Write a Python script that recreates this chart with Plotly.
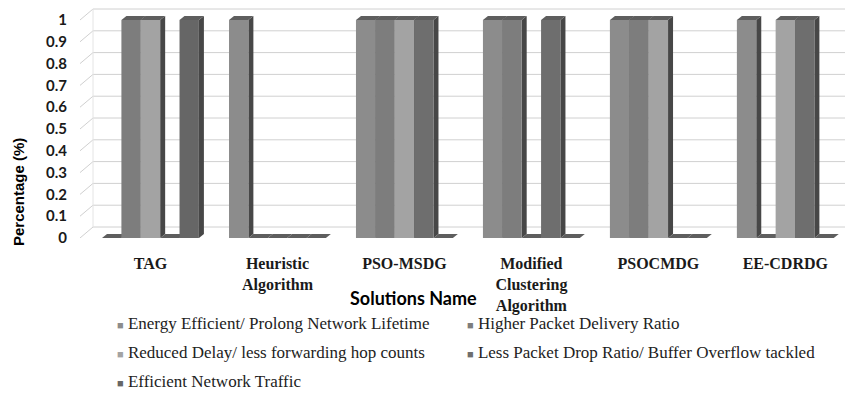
import plotly.graph_objects as go

# ---- data -------------------------------------------------------------
categories = [
    "TAG",
    "Heuristic<br>Algorithm",
    "PSO-MSDG",
    "Modified<br>Clustering<br>Algorithm",
    "PSOCMDG",
    "EE-CDRDG",
]
series_names = [
    "Energy Efficient/ Prolong Network Lifetime",
    "Higher Packet Delivery Ratio",
    "Reduced Delay/ less forwarding hop counts",
    "Less Packet Drop Ratio/ Buffer Overflow tackled",
    "Efficient Network Traffic",
]
energy_efficient = [0, 1, 1, 1, 1, 1]
higher_delivery = [1, 0, 1, 1, 1, 0]
reduced_delay = [1, 0, 1, 0, 1, 1]
less_drop = [0, 0, 1, 1, 0, 1]
network_traffic = [1, 0, 0, 0, 0, 0]
y_ticks = [0, 0.1, 0.2, 0.3, 0.4, 0.5, 0.6, 0.7, 0.8, 0.9, 1]
y_tick_text = ["0", "0.1", "0.2", "0.3", "0.4", "0.5", "0.6", "0.7", "0.8", "0.9", "1"]

series_values = [energy_efficient, higher_delivery, reduced_delay, less_drop, network_traffic]
front_colors = ["#8c8c8c", "#7d7d7d", "#a3a3a3", "#6e6e6e", "#666666"]
top_color = "#5e5e5e"
side_color = "#474747"
grid_color = "#d0d0d0"

# ---- geometry ---------------------------------------------------------
W, H = 845, 405
ML, MR, MT, MB = 80, 0, 5, 167
PW, PH = W - ML - MR, H - MT - MB
X0, X1 = -0.555, 5.47
Y0, Y1 = 0.0, 1.0688
xu = PW / (X1 - X0)          # px per x unit
yu = PH / (Y1 - Y0)          # px per y unit

BARGAP = 0.237
n_series = len(series_values)
bar_w = (1 - BARGAP) / n_series
DX, DY = 5 / xu, 4 / yu      # bar depth
WDX, WDY = 13 / xu, 11 / yu  # wall depth


def px_x(px):
    return (px - ML) / PW


def px_y(py):
    return (H - MB - py) / PH


fig = go.Figure()
shapes = []

x_idx = list(range(len(categories)))
for j, (vals, name, col) in enumerate(zip(series_values, series_names, front_colors)):
    off = -(1 - BARGAP) / 2 + bar_w * j
    fig.add_trace(go.Bar(
        x=x_idx, y=vals, name=name, offset=off, width=bar_w,
        marker=dict(color=col, line=dict(width=0)),
        showlegend=False,
    ))
    # depth faces of each bar (drawn beneath the fronts)
    for i, v in enumerate(vals):
        xl = i + off
        xr = xl + bar_w
        side = f"M{xr},0 L{xr + DX},{DY} L{xr + DX},{v + DY} L{xr},{v} Z"
        top = f"M{xl},{v} L{xr},{v} L{xr + DX},{v + DY} L{xl + DX},{v + DY} Z"
        shapes.append(dict(type="path", path=side, xref="x", yref="y",
                           fillcolor=side_color, line=dict(width=0), layer="between"))
        shapes.append(dict(type="path", path=top, xref="x", yref="y",
                           fillcolor=top_color, line=dict(width=0), layer="between"))

# back and side wall gridlines
for v in y_ticks:
    shapes.append(dict(type="line", xref="x", yref="y",
                       x0=X0, y0=v, x1=X0 + WDX, y1=v + WDY,
                       line=dict(color=grid_color, width=1), layer="below"))
    shapes.append(dict(type="line", xref="x", yref="y",
                       x0=X0 + WDX, y0=v + WDY, x1=X1, y1=v + WDY,
                       line=dict(color=grid_color, width=1), layer="below"))
shapes.append(dict(type="line", xref="x", yref="y",
                   x0=X0 + WDX, y0=WDY, x1=X0 + WDX, y1=1 + WDY,
                   line=dict(color="#e4e4e4", width=1), layer="below"))

annotations = [
    dict(text="Percentage (%)", textangle=-90, xref="paper", yref="paper",
         x=px_x(18), y=px_y(192), xanchor="center", yanchor="middle", showarrow=False,
         font=dict(family="Liberation Sans", size=15, color="#000000", weight="bold")),
    dict(text="Solutions Name", xref="paper", yref="paper",
         x=px_x(413), y=px_y(298), xanchor="center", yanchor="middle", showarrow=False,
         font=dict(family="Lato", size=18, color="#000000", weight="bold")),
]

# legend rows, two columns
legend_pos = [(115, 323), (465, 323), (115, 352), (465, 352), (115, 381)]
for (lx, ly), name, col in zip(legend_pos, series_names, front_colors):
    annotations.append(dict(
        text=f"<span style='font-size:11px;color:{col}'>■</span> {name}",
        xref="paper", yref="paper", x=px_x(lx), y=px_y(ly),
        xanchor="left", yanchor="middle", showarrow=False,
        font=dict(family="Liberation Serif", size=17, color="#222222"),
    ))

fig.update_layout(
    width=W, height=H,
    margin=dict(l=ML, r=MR, t=MT, b=MB),
    paper_bgcolor="white", plot_bgcolor="white",
    barmode="overlay",
    shapes=shapes,
    annotations=annotations,
    showlegend=False,
    xaxis=dict(
        range=[X0, X1], tickmode="array", tickvals=x_idx, ticktext=categories,
        showgrid=False, zeroline=False, showline=False, ticks="",
        ticklabelstandoff=14,
        tickfont=dict(family="Liberation Serif", size=16, color="#1a1a1a", weight="bold"),
    ),
    yaxis=dict(
        range=[Y0, Y1], tickmode="array", tickvals=y_ticks, ticktext=y_tick_text,
        showgrid=False, zeroline=False, showline=False, ticks="",
        ticklabelstandoff=12,
        tickfont=dict(family="Lato", size=15, color="#1a1a1a", weight="bold"),
    ),
)

fig.write_html("out.html")
